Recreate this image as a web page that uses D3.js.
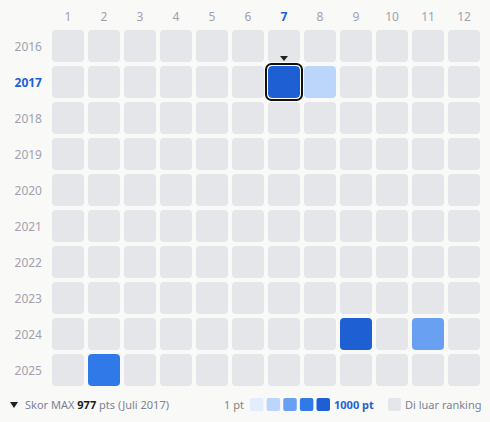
<!DOCTYPE html>
<html><head><meta charset="utf-8">
<script src="https://cdn.jsdelivr.net/npm/d3@7"></script>
<style>
html,body{margin:0;padding:0;background:#f9f9f7;}
svg{display:block;font-family:"Noto Sans",sans-serif;}
</style></head><body>
<svg id="c" width="490" height="422"></svg>
<script>
const months = [1,2,3,4,5,6,7,8,9,10,11,12];
const years = [2016,2017,2018,2019,2020,2021,2022,2023,2024,2025];
// ranking points (year, month, value)
const cellYears  = [2017, 2017, 2024, 2024, 2025];
const cellMonths = [7, 8, 9, 11, 2];
const cellValues = [977, 330, 870, 520, 700];
const binColors = ["#e3edfd","#bcd5fa","#6aa0f2","#2f7ae8","#1e5fd4"];
const maxYear = 2017, maxMonth = 7, maxValue = 977, maxLabel = "Juli 2017";

const svg = d3.select("#c");
const x = d3.scaleBand().domain(months).range([50, 482]).paddingInner(4/36).paddingOuter(2/36);
const y = d3.scaleBand().domain(years).range([28, 388]).paddingInner(4/36).paddingOuter(2/36);
const color = d3.scaleQuantize().domain([1, 1000]).range(binColors);
const emptyCol = "#e5e6ea";

const lookup = new Map();
cellYears.forEach((yr,i)=>lookup.set(yr+"-"+cellMonths[i], cellValues[i]));

const cells = [];
years.forEach(yr=>months.forEach(m=>cells.push({yr,m,v:lookup.get(yr+"-"+m)})));

svg.append("g").selectAll("rect").data(cells).join("rect")
  .attr("x",d=>x(d.m)).attr("y",d=>y(d.yr))
  .attr("width",x.bandwidth()).attr("height",y.bandwidth())
  .attr("rx",4).attr("ry",4)
  .attr("fill",d=>d.v==null?emptyCol:color(d.v));

// highlight max cell
svg.append("rect")
  .attr("x",x(maxMonth)-0.5).attr("y",y(maxYear)-0.5)
  .attr("width",x.bandwidth()+1).attr("height",y.bandwidth()+1)
  .attr("rx",4.5).attr("fill","none").attr("stroke","#ffffff").attr("stroke-width",1);
svg.append("rect")
  .attr("x",x(maxMonth)-2).attr("y",y(maxYear)-2)
  .attr("width",x.bandwidth()+4).attr("height",y.bandwidth()+4)
  .attr("rx",5.5).attr("fill","none").attr("stroke","#111111").attr("stroke-width",2);
// marker triangle
const tx = x(maxMonth)+x.bandwidth()/2, ty = y(maxYear)-10;
svg.append("path").attr("d",`M${tx-4},${ty}L${tx+4},${ty}L${tx},${ty+5}Z`).attr("fill","#222");

// column labels
svg.append("g").selectAll("text").data(months).join("text")
  .attr("x",d=>x(d)+x.bandwidth()/2).attr("y",21)
  .attr("text-anchor","middle").attr("font-size",12)
  .attr("font-weight",d=>d===maxMonth?"bold":"normal")
  .attr("fill",d=>d===maxMonth?"#1d5fd6":"#a0a2b0")
  .text(d=>d);
// row labels
svg.append("g").selectAll("text").data(years).join("text")
  .attr("x",42).attr("y",d=>y(d)+y.bandwidth()/2+4.5)
  .attr("text-anchor","end").attr("font-size",12)
  .attr("font-weight",d=>d===maxYear?"bold":"normal")
  .attr("fill",d=>d===maxYear?"#1d5fd6":"#a0a2b0")
  .text(d=>d);

// footer left
svg.append("path").attr("d","M10,402L18,402L14,408Z").attr("fill","#222");
const ft = svg.append("text").attr("x",25).attr("y",409).attr("font-size",11).attr("fill","#7d8196");
ft.append("tspan").text("Skor MAX ");
ft.append("tspan").attr("font-weight","bold").attr("fill","#1a1a1a").text(maxValue);
ft.append("tspan").text(" pts ("+maxLabel+")");

// footer legend
svg.append("text").attr("x",244).attr("y",409).attr("text-anchor","end").attr("font-size",11).attr("fill","#8a7f7a").text("1 pt");
const lx = d3.scaleBand().domain(d3.range(binColors.length)).range([250,330]).paddingInner(3/16);
svg.append("g").selectAll("rect").data(binColors).join("rect")
  .attr("x",(d,i)=>lx(i)).attr("y",398).attr("width",lx.bandwidth()).attr("height",13)
  .attr("rx",2).attr("fill",d=>d);
svg.append("text").attr("x",334).attr("y",409).attr("font-size",11).attr("font-weight","bold").attr("fill","#1d5fd6").text("1000 pt");
svg.append("rect").attr("x",388).attr("y",398).attr("width",13).attr("height",13).attr("rx",2).attr("fill",emptyCol);
svg.append("text").attr("x",405).attr("y",409).attr("font-size",11).attr("fill","#7d8196").text("Di luar ranking");
</script>
</body></html>
